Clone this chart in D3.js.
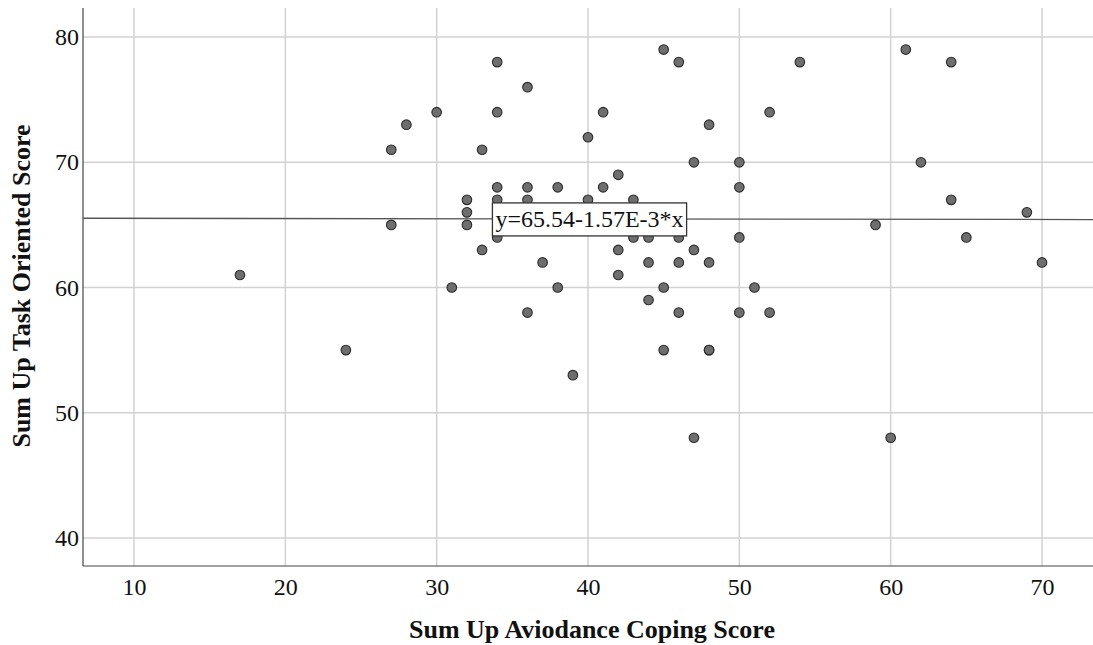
<!DOCTYPE html>
<html>
<head>
<meta charset="utf-8">
<script src="https://cdn.jsdelivr.net/npm/d3@7"></script>
<style>
  html, body { margin: 0; padding: 0; background: #fff; }
  svg { display: block; }
  text { font-family: "Liberation Serif", "Times New Roman", serif; fill: #111; }
</style>
</head>
<body>
<svg id="chart" width="1093" height="645"></svg>
<script>
// Avoidance coping score (x) and task oriented score (y) for each respondent
const avoidance = [17, 24, 27, 27, 28, 30, 31, 32, 32, 32, 33, 33, 34, 34, 34, 34, 34,
  36, 36, 36, 36, 37, 38, 38, 39, 40, 40, 41, 41, 42, 42, 42, 43, 43, 44, 44, 44,
  45, 45, 45, 46, 46, 46, 46, 47, 47, 47, 48, 48, 48, 48, 50, 50, 50, 50, 51, 52, 52,
  54, 59, 60, 61, 62, 64, 64, 65, 69, 70];
const taskOriented = [61, 55, 71, 65, 73, 74, 60, 67, 66, 65, 71, 63, 78, 74, 68, 67, 64,
  76, 68, 67, 58, 62, 68, 60, 53, 72, 67, 74, 68, 69, 63, 61, 67, 64, 64, 62, 59,
  79, 60, 55, 78, 64, 62, 58, 70, 63, 48, 73, 62, 55, 55, 70, 68, 64, 58, 60, 74, 58,
  78, 65, 48, 79, 70, 78, 67, 64, 66, 62];

const xTicks = [10, 20, 30, 40, 50, 60, 70];
const yTicks = [40, 50, 60, 70, 80];

// Linear fit reported on the chart
const intercept = 65.54;
const slope = -1.57e-3;
const fitLabel = "y=65.54-1.57E-3*x";
const fitLabelAt = 40.1;

const svg = d3.select("#chart");
const plotLeft = 83, plotRight = 1093, plotTop = 8, plotBottom = 566;

const x = d3.scaleLinear().domain([6.63, 73.37]).range([plotLeft, plotRight]);
const y = d3.scaleLinear().domain([37.76, 82.32]).range([plotBottom, plotTop]);

// Grid lines
const grid = svg.append("g");
grid.selectAll("line.vx").data(xTicks).join("line")
  .attr("x1", d => x(d)).attr("x2", d => x(d))
  .attr("y1", plotTop).attr("y2", plotBottom)
  .attr("stroke", "#d2d2d2").attr("stroke-width", 1.5);
grid.selectAll("line.hy").data(yTicks).join("line")
  .attr("x1", plotLeft).attr("x2", plotRight)
  .attr("y1", d => y(d)).attr("y2", d => y(d))
  .attr("stroke", "#d2d2d2").attr("stroke-width", 1.5);

// Axes
const xAxis = d3.axisBottom(x).tickValues(xTicks).tickSize(0).tickPadding(12);
const yAxis = d3.axisLeft(y).tickValues(yTicks).tickSize(0).tickPadding(4);

const gx = svg.append("g").attr("transform", `translate(0,${plotBottom})`).call(xAxis);
gx.select(".domain").remove();
gx.selectAll("text").attr("font-size", 24).attr("fill", "#111");

const gy = svg.append("g").attr("transform", `translate(${plotLeft},0)`).call(yAxis);
gy.select(".domain").remove();
gy.selectAll("text").attr("font-size", 24).attr("fill", "#111");

svg.append("line").attr("x1", plotLeft).attr("x2", plotRight).attr("y1", plotBottom).attr("y2", plotBottom)
  .attr("stroke", "#444").attr("stroke-width", 1.2);
svg.append("line").attr("x1", plotLeft).attr("x2", plotLeft).attr("y1", plotTop).attr("y2", plotBottom)
  .attr("stroke", "#444").attr("stroke-width", 1.2);

// Fit line across the plot
const xd = x.domain();
svg.append("line")
  .attr("x1", x(xd[0])).attr("y1", y(intercept + slope * xd[0]))
  .attr("x2", x(xd[1])).attr("y2", y(intercept + slope * xd[1]))
  .attr("stroke", "#555").attr("stroke-width", 1.3);

// Points
const pts = avoidance.map((v, i) => ({ a: v, t: taskOriented[i] }));
svg.append("g").selectAll("circle").data(pts).join("circle")
  .attr("cx", d => x(d.a)).attr("cy", d => y(d.t)).attr("r", 4.8)
  .attr("fill", "#6e6e6e").attr("stroke", "#2b2b2b").attr("stroke-width", 1.1);

// Fit equation label
const lx = x(fitLabelAt), ly = y(intercept + slope * fitLabelAt);
const lab = svg.append("g");
const txt = lab.append("text").attr("x", lx).attr("y", ly + 8)
  .attr("text-anchor", "middle").attr("font-size", 24).text(fitLabel);
const bb = txt.node().getBBox();
lab.insert("rect", "text")
  .attr("x", bb.x - 3).attr("y", ly - 16).attr("width", bb.width + 6).attr("height", 33)
  .attr("fill", "#fff").attr("stroke", "#333").attr("stroke-width", 1.3);

// Axis titles
svg.append("text").attr("x", 592).attr("y", 638).attr("text-anchor", "middle")
  .attr("font-size", 26).attr("font-weight", "bold").text("Sum Up Aviodance Coping Score");
svg.append("text").attr("transform", "translate(30,286) rotate(-90)").attr("text-anchor", "middle")
  .attr("font-size", 26).attr("font-weight", "bold").text("Sum Up Task Oriented Score");
</script>
</body>
</html>
